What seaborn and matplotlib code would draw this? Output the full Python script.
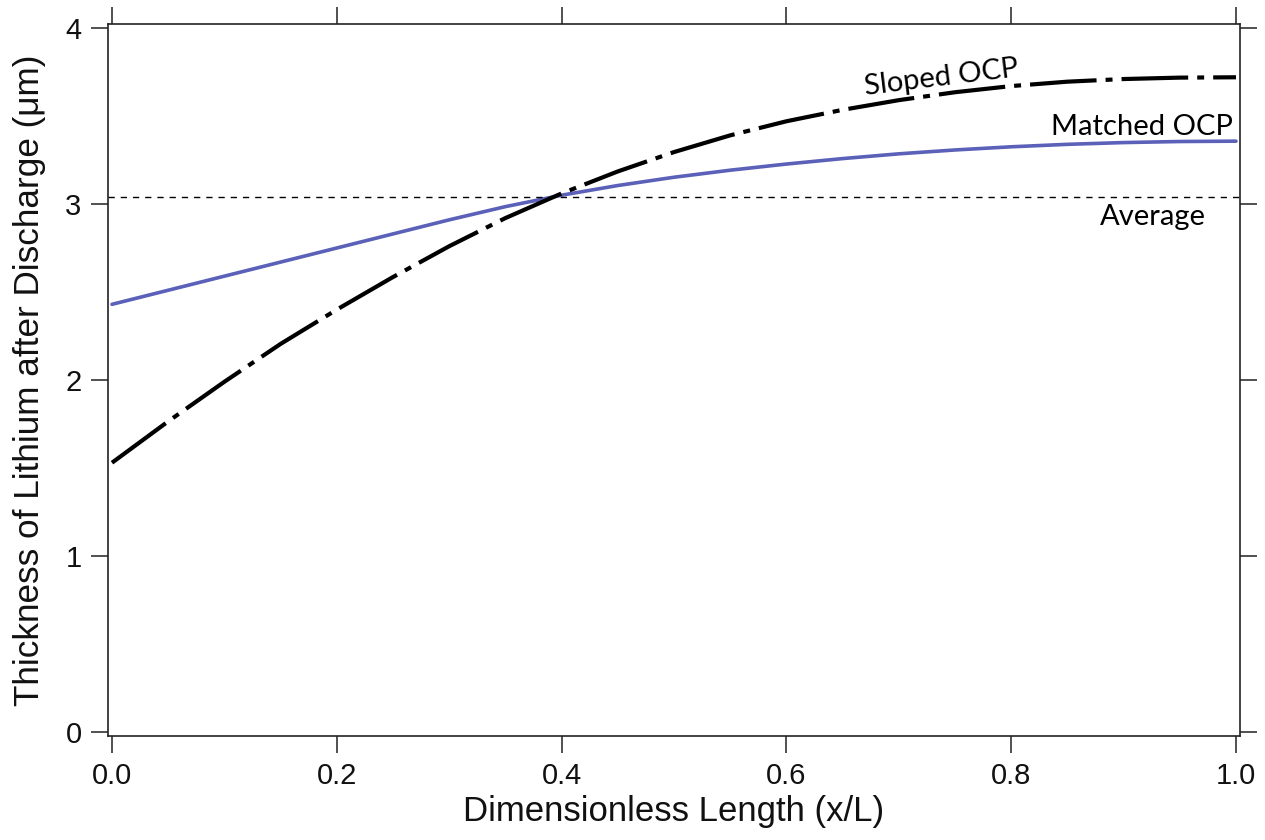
import numpy as np
import pandas as pd
import matplotlib
matplotlib.use("Agg")
import matplotlib.pyplot as plt
import seaborn as sns

# ---- data ----
x_pos = [0.0, 0.05, 0.1, 0.15, 0.2, 0.25, 0.3, 0.35, 0.4, 0.45, 0.5,
         0.55, 0.6, 0.65, 0.7, 0.75, 0.8, 0.85, 0.9, 0.95, 1.0]
sloped_ocp = [1.53, 1.765, 1.99, 2.205, 2.40, 2.585, 2.76, 2.92, 3.06, 3.185, 3.295,
              3.39, 3.47, 3.535, 3.59, 3.635, 3.67, 3.695, 3.71, 3.718, 3.72]
matched_ocp = [2.43, 2.51, 2.59, 2.67, 2.75, 2.83, 2.91, 2.985, 3.05, 3.105, 3.152,
               3.192, 3.227, 3.258, 3.285, 3.307, 3.325, 3.339, 3.349, 3.355, 3.357]
average_value = 3.04
x_ticks = [0.0, 0.2, 0.4, 0.6, 0.8, 1.0]
y_ticks = [0, 1, 2, 3, 4]

sns.set_style("ticks")
plt.rcParams['font.family'] = ['Liberation Sans', 'DejaVu Sans']
plt.rcParams['lines.scale_dashes'] = False

W, H = 1265, 840
fig = plt.figure(figsize=(W / 100, H / 100), dpi=100)
L, R, T, B = 108, 1240, 24, 736
ax = fig.add_axes([L / W, (H - B) / H, (R - L) / W, (B - T) / H])

df = pd.DataFrame({"x": x_pos, "sloped": sloped_ocp, "matched": matched_ocp})

sns.lineplot(data=df, x="x", y="matched", ax=ax, color="#5b60b8", linewidth=2.6)
sns.lineplot(data=df, x="x", y="sloped", ax=ax, color="black", linewidth=3.0)
ax.lines[1].set_dashes((48, 6.5, 5, 6.5))
ax.lines[1].set_dash_capstyle("butt")
ax.lines[0].set_solid_joinstyle("round")
ax.axhline(average_value, color="black", linewidth=1.0, dashes=(4.5, 4.3))

# axis ranges (frame slightly beyond data range, like the reference)
ax.set_xlim(-0.00356, 1.00356)
ax.set_ylim(-0.0227, 4.0227)
ax.set_xticks(x_ticks)
ax.set_xticklabels([f"{v:.1f}" for v in x_ticks])
ax.set_yticks(y_ticks)
ax.set_yticklabels([str(v) for v in y_ticks])

for s in ax.spines.values():
    s.set_visible(True)
    s.set_linewidth(1.2)
    s.set_color("#222222")

ax.tick_params(axis="both", which="major", direction="out", length=12, width=1.1,
               color="#222222", labelsize=21, pad=7, labelcolor="#111111",
               top=True, right=True, labeltop=False, labelright=False)

ax.set_xlabel("Dimensionless Length (x/L)", fontsize=25, labelpad=3, color="#111111")
ax.set_ylabel("Thickness of Lithium after Discharge (\u03bcm)", fontsize=25.3,
              labelpad=14, color="#111111")

ann_font = ['Lato', 'DejaVu Sans']
ax.text(0.738, 3.716, "Sloped OCP", fontsize=21, family=ann_font, rotation=7,
        ha="center", va="center", rotation_mode="anchor", color="black")
ax.text(0.997, 3.39, "Matched OCP", fontsize=21, family=ann_font,
        ha="right", va="baseline", color="black")
ax.text(0.9735, 2.88, "Average", fontsize=21, family=ann_font,
        ha="right", va="baseline", color="black")

fig.savefig("out.png", dpi=100, facecolor="white")
